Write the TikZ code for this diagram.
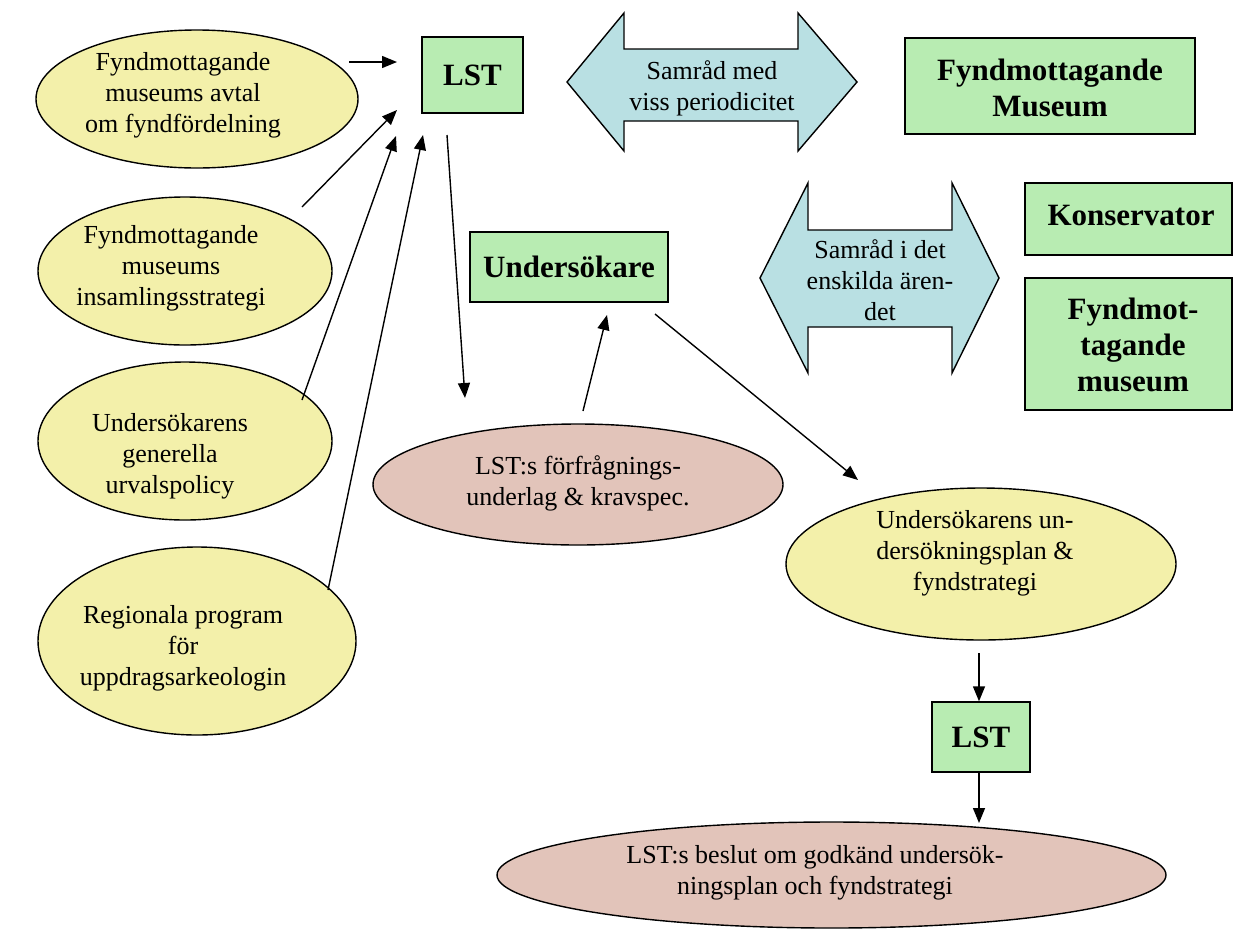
\documentclass[tikz,border=0pt]{standalone}
\usepackage{fontspec}
\setmainfont{Liberation Serif}
\usetikzlibrary{shapes.geometric, arrows.meta}
\definecolor{yel}{RGB}{243,240,170}
\definecolor{pnk}{RGB}{226,196,186}
\definecolor{grn}{RGB}{184,236,178}
\definecolor{blu}{RGB}{185,224,227}
\begin{document}
\begin{tikzpicture}[x=1pt,y=-1pt,
  ell/.style={ellipse, draw, line width=1.4pt, inner sep=0pt},
  yellowell/.style={ell, fill=yel},
  pinkell/.style={ell, fill=pnk},
  gbox/.style={draw, line width=1.4pt, fill=grn, inner sep=0pt},
  btxt/.style={font=\fontsize{31}{36}\selectfont\bfseries, align=center, inner sep=0pt},
  txt/.style={font=\fontsize{26}{31}\selectfont, align=center, inner sep=0pt},
  conn/.style={line width=1.4pt, -{Triangle[length=15pt,width=12pt]}},
  darrow/.style={draw, line width=1.4pt, fill=blu, line join=miter}
]
\useasboundingbox (0,0) rectangle (1233,930);

% ellipses
\node[yellowell, minimum width=322pt, minimum height=138pt] (e1) at (197,99) {};
\node[txt] (e1t) at (183,95) {Fyndmottagande\\museums avtal\\om fyndfördelning};
\node[yellowell, minimum width=294pt, minimum height=148pt] (e2) at (185,271) {};
\node[txt] (e2t) at (171,268) {Fyndmottagande\\museums\\insamlingsstrategi};
\node[yellowell, minimum width=294pt, minimum height=158pt] (e3) at (185,441) {};
\node[txt] (e3t) at (170,456) {Undersökarens\\generella\\urvalspolicy};
\node[yellowell, minimum width=318pt, minimum height=188pt] (e4) at (197,641) {};
\node[txt] (e4t) at (183,648) {Regionala program\\för\\uppdragsarkeologin};
\node[pinkell, minimum width=410pt, minimum height=121pt] (p1) at (578,484.5) {};
\node[txt] (p1t) at (578,483) {LST:s förfrågnings-\\underlag \& kravspec.};
\node[yellowell, minimum width=390pt, minimum height=152pt] (u) at (981,564) {};
\node[txt] (ut) at (975,553) {Undersökarens un-\\dersökningsplan \&\\fyndstrategi};
\node[pinkell, minimum width=669pt, minimum height=106pt] (p2) at (831.5,875) {};
\node[txt] (p2t) at (815,873) {LST:s beslut om godkänd undersök-\\ningsplan och fyndstrategi};

% boxes
\node[gbox, minimum width=101pt, minimum height=76pt] (lst1) at (472.5,75) {};
\node[btxt] (lst1t) at (472.5,75) {LST};
\node[gbox, minimum width=290pt, minimum height=96pt] (fm1) at (1050,86) {};
\node[btxt] (fm1t) at (1050,88) {Fyndmottagande\\Museum};
\node[gbox, minimum width=207pt, minimum height=72pt] (kons) at (1128.5,219) {};
\node[btxt] (konst) at (1131,215) {Konservator};
\node[gbox, minimum width=207pt, minimum height=132pt] (fm2) at (1128.5,344) {};
\node[btxt] (fm2t) at (1133,345) {Fyndmot-\\tagande\\museum};
\node[gbox, minimum width=198pt, minimum height=70pt] (und) at (569,267) {};
\node[btxt] (undt) at (569,267) {Undersökare};
\node[gbox, minimum width=98pt, minimum height=70pt] (lst2) at (981,737) {};
\node[btxt] (lst2t) at (981,737) {LST};

% double arrows
\draw[darrow] (567,82) -- (624,13) -- (624,49) -- (798,49) -- (798,13) -- (857,82)
  -- (798,151) -- (798,121) -- (624,121) -- (624,151) -- cycle;
\node[txt] (da1t) at (712,88) {Samråd med\\viss periodicitet};
\draw[darrow] (760,278) -- (808,183) -- (808,230) -- (952,230) -- (952,183) -- (999,278)
  -- (952,373) -- (952,327) -- (808,327) -- (808,373) -- cycle;
\node[txt] (da2t) at (880,280) {Samråd i det\\enskilda ären-\\det};

% connectors
\coordinate (a1s) at (349,62);  \coordinate (a1e) at (397,62);
\coordinate (a2s) at (302,207); \coordinate (a2e) at (397,110);
\coordinate (a3s) at (302,400); \coordinate (a3e) at (396,136);
\coordinate (a4s) at (328,590); \coordinate (a4e) at (423,135);
\coordinate (a5s) at (447,135); \coordinate (a5e) at (465,398);
\coordinate (a6s) at (583,411); \coordinate (a6e) at (607,315);
\coordinate (a7s) at (655,314); \coordinate (a7e) at (858,480);
\coordinate (a8s) at (979,653);
\coordinate (a9e) at (979,823);
\draw[conn] (a1s) -- (a1e);
\draw[conn] (a2s) -- (a2e);
\draw[conn] (a3s) -- (a3e);
\draw[conn] (a4s) -- (a4e);
\draw[conn] (a5s) -- (a5e);
\draw[conn] (a6s) -- (a6e);
\draw[conn] (a7s) -- (a7e);
\draw[conn] (a8s) -- (a8s |- lst2.north);
\draw[conn] (a9e |- lst2.south) -- (a9e);
\end{tikzpicture}
\end{document}
